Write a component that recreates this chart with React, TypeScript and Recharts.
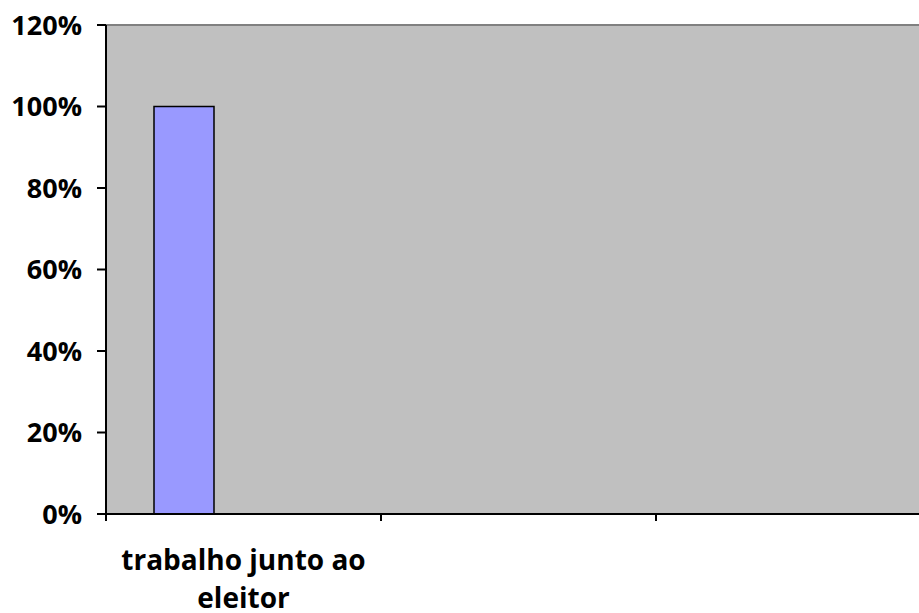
import { BarChart, Bar, XAxis, YAxis, CartesianGrid, ReferenceLine } from 'recharts'

// Categorias do eixo X (só a primeira tem rótulo)
const categorias = ['trabalho junto ao eleitor', '', '']

// Três séries, apenas a primeira tem valor na primeira categoria
const serie1 = [1, null, null]
const serie2 = [null, null, null]
const serie3 = [null, null, null]

const yTicks = [0, 0.2, 0.4, 0.6, 0.8, 1, 1.2]

const data = categorias.map((categoria, i) => ({
  categoria,
  serie1: serie1[i],
  serie2: serie2[i],
  serie3: serie3[i],
}))

const FONT = '"Open Sans", sans-serif'

// quebra o rótulo em linhas de no máximo ~18 caracteres
function wrap(label: string, max = 18) {
  const lines: string[] = []
  let cur = ''
  for (const w of label.split(' ')) {
    const next = cur ? cur + ' ' + w : w
    if (next.length > max && cur) {
      lines.push(cur)
      cur = w
    } else {
      cur = next
    }
  }
  if (cur) lines.push(cur)
  return lines
}

// rótulo da categoria + marca de escala na divisa entre categorias (estilo Excel)
function CategoryTick(props: any) {
  const { x, y, payload } = props
  const edge = x - (payload.offset ?? 0)
  return (
    <g>
      <line x1={edge} x2={edge} y1={y} y2={y + 7} stroke="#000" strokeWidth={2} />
      {payload.value ? (
        <text x={x} y={y + 56} textAnchor="middle" fontFamily={FONT} fontWeight="bold" fontSize={28} fill="#000">
          {wrap(payload.value).map((line, i) => (
            <tspan key={i} x={x} dy={i === 0 ? 0 : 38}>
              {line}
            </tspan>
          ))}
        </text>
      ) : null}
    </g>
  )
}

export default function App() {
  return (
    <div style={{ position: 'fixed', left: 0, top: 0, width: 919, height: 613, overflow: 'hidden', background: '#fff' }}>
      <style>{'html,body{margin:0;overflow:hidden}'}</style>
      <BarChart
        width={931}
        height={613}
        data={data}
        margin={{ top: 25, right: 0, left: 0, bottom: 0 }}
        barGap={0}
        barSize={60}
      >
        {/* fundo cinza da área de plotagem */}
        <CartesianGrid fill="#C0C0C0" horizontal={false} vertical={false} />

        <XAxis
          dataKey="categoria"
          interval={0}
          height={99}
          tickSize={0}
          tickMargin={0}
          tickLine={false}
          tick={<CategoryTick />}
          axisLine={{ stroke: '#000', strokeWidth: 2 }}
        />

        <YAxis
          width={106}
          domain={[0, 1.2]}
          ticks={yTicks}
          tickFormatter={(v) => `${Math.round(v * 100)}%`}
          tickSize={9}
          tickMargin={15}
          tick={{ fontFamily: FONT, fontWeight: 'bold', fontSize: 27, fill: '#000' }}
          axisLine={{ stroke: '#000', strokeWidth: 2 }}
          tickLine={{ stroke: '#000', strokeWidth: 2 }}
        />

        {/* borda superior da área de plotagem */}
        <ReferenceLine y={1.2} stroke="#808080" strokeWidth={2} />

        <Bar dataKey="serie1" fill="#9999FF" stroke="#000" strokeWidth={1.5} isAnimationActive={false} />
        <Bar dataKey="serie2" fill="#993366" stroke="#000" strokeWidth={1.5} isAnimationActive={false} />
        <Bar dataKey="serie3" fill="#FFFFCC" stroke="#000" strokeWidth={1.5} isAnimationActive={false} />
      </BarChart>
    </div>
  )
}
